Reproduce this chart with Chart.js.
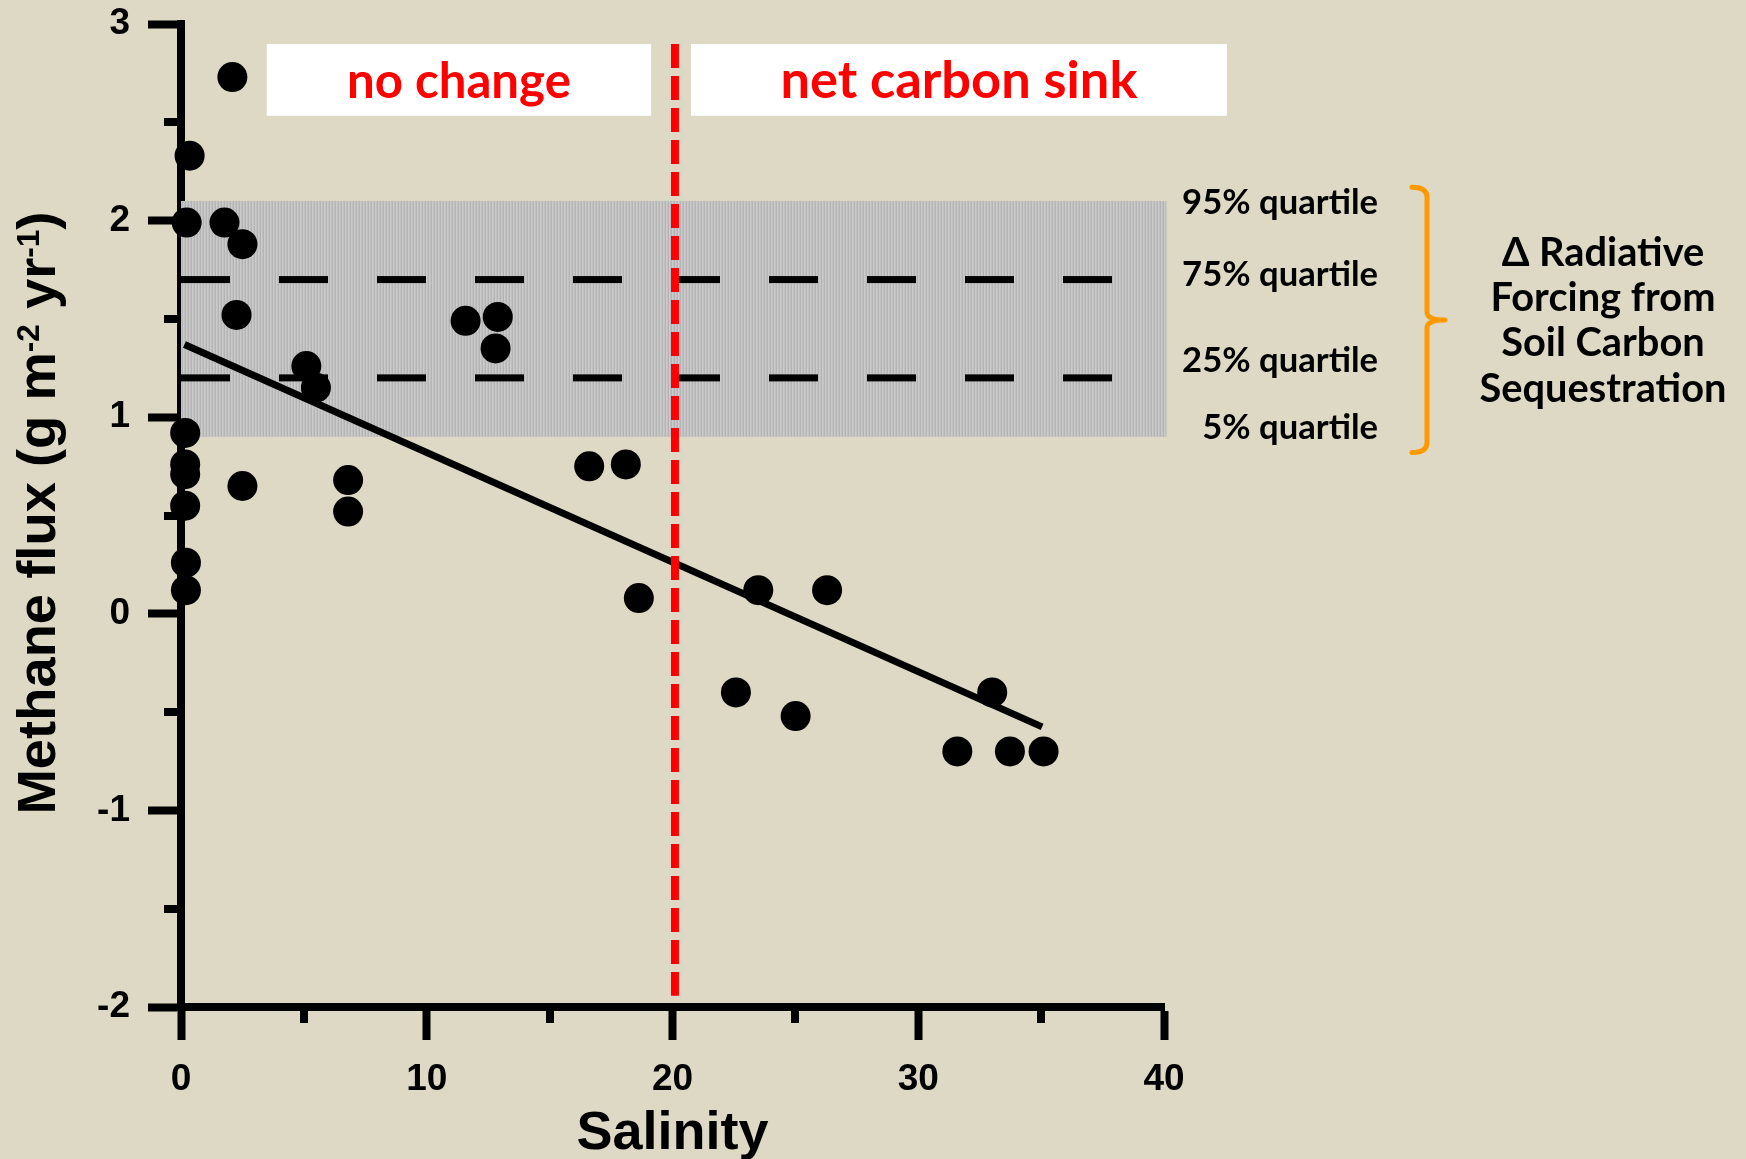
<!DOCTYPE html>
<html>
<head>
<meta charset="utf-8">
<script src="https://cdn.jsdelivr.net/npm/chart.js@4.4.1/dist/chart.umd.min.js"></script>
<style>
  html, body { margin: 0; padding: 0; background: #DDD9C4; }
  canvas { display: block; }
</style>
</head>
<body>
<canvas id="chart" width="1746" height="1159"></canvas>
<script>
// Methane flux measurements versus salinity
const salinity = [2.09, 0.35, 0.23, 1.77, 2.50, 2.26, 5.10, 5.49, 11.58, 12.89, 12.80,
                  0.17, 0.17, 0.17, 0.17, 0.20, 0.20, 2.50, 6.80, 6.80, 16.61, 18.10,
                  18.63, 23.49, 26.29, 22.58, 25.01, 33.01, 31.59, 33.73, 35.10];
const methaneFlux = [2.73, 2.33, 1.99, 1.99, 1.88, 1.52, 1.26, 1.15, 1.49, 1.51, 1.35,
                     0.92, 0.76, 0.71, 0.55, 0.26, 0.12, 0.65, 0.68, 0.52, 0.75, 0.76,
                     0.08, 0.12, 0.12, -0.40, -0.52, -0.40, -0.70, -0.70, -0.70];

// Least-squares fit line end points
const fitSalinity = [0.14, 35.04];
const fitFlux = [1.37, -0.575];

// Soil carbon sequestration forcing distribution
const quartileNames = ['95% quartile', '75% quartile', '25% quartile', '5% quartile'];
const bandRange = [0.9, 2.1];          // 5% .. 95%
const quartileDashed = [1.7, 1.2];      // 75%, 25%
const quartileSpan = [0, 38];
const bandSpan = [0, 40.1];

// Salinity threshold separating the two zones
const thresholdSalinity = 20.1;
const thresholdSpan = [2.898, -1.943];
const zoneNames = ['no change', 'net carbon sink'];
const zoneSpans = [[3.49, 19.13], [20.75, 42.56]];
const zoneHeight = [2.533, 2.898];

const forcingLines = ['\u0394 Radiative', 'Forcing from', 'Soil Carbon', 'Sequestration'];

// Axis tick labels
const xTickLabels = [0, 10, 20, 30, 40];
const yTickLabels = [-2, -1, 0, 1, 2, 3];

const ARIAL = "'Liberation Sans', Arial, Helvetica, sans-serif";
const HAND = "Lato, 'Open Sans', sans-serif";
const BG = '#DDD9C4';

function fitSize(ctx, text, width, weight, family) {
  ctx.font = `${weight} 100px ${family}`;
  return 100 * width / ctx.measureText(text).width;
}
function capHeight(ctx) {
  return ctx.measureText('H').actualBoundingBoxAscent;
}

// Gray stippled band texture
function bandPattern(ctx) {
  const c = document.createElement('canvas');
  c.width = 3; c.height = 1;
  const g = c.getContext('2d');
  ['#cacaca', '#c1c1c1', '#b4b4b4'].forEach((col, i) => { g.fillStyle = col; g.fillRect(i, 0, 1, 1); });
  return ctx.createPattern(c, 'repeat');
}

const decorations = {
  id: 'decorations',
  beforeDraw(chart) {
    const { ctx, width, height } = chart;
    ctx.save();
    ctx.fillStyle = BG;
    ctx.fillRect(0, 0, width, height);
    ctx.restore();
  },
  beforeDatasetsDraw(chart) {
    const { ctx, scales: { x, y } } = chart;
    ctx.save();
    ctx.fillStyle = bandPattern(ctx);
    const x0 = x.getPixelForValue(bandSpan[0]), x1 = x.getPixelForValue(bandSpan[1]);
    const yt = y.getPixelForValue(bandRange[1]), yb = y.getPixelForValue(bandRange[0]);
    ctx.fillRect(x0, yt, x1 - x0, yb - yt);
    ctx.restore();
  },
  afterDraw(chart) {
    const { ctx, chartArea, scales: { x, y } } = chart;
    ctx.save();

    // minor tick marks
    ctx.strokeStyle = '#000';
    ctx.lineWidth = 8;
    ctx.lineCap = 'butt';
    x.ticks.forEach(t => {
      if (t.value % 10 !== 0) {
        const px = Math.round(x.getPixelForValue(t.value));
        ctx.beginPath(); ctx.moveTo(px, chartArea.bottom); ctx.lineTo(px, chartArea.bottom + 16); ctx.stroke();
      }
    });
    y.ticks.forEach(t => {
      if (!Number.isInteger(t.value)) {
        const py = Math.round(y.getPixelForValue(t.value));
        ctx.beginPath(); ctx.moveTo(chartArea.left, py); ctx.lineTo(chartArea.left - 17, py); ctx.stroke();
      }
    });

    // zone boxes with red captions
    zoneNames.forEach((name, i) => {
      const x0 = x.getPixelForValue(zoneSpans[i][0]), x1 = x.getPixelForValue(zoneSpans[i][1]);
      const yt = y.getPixelForValue(zoneHeight[1]), yb = y.getPixelForValue(zoneHeight[0]);
      ctx.fillStyle = '#ffffff';
      ctx.fillRect(x0, yt, x1 - x0, yb - yt);
      const w = i === 0 ? 224 : 357;
      const size = fitSize(ctx, name, w, 'bold', HAND);
      ctx.font = `bold ${size}px ${HAND}`;
      ctx.fillStyle = '#ff0000';
      ctx.textAlign = 'center';
      ctx.textBaseline = 'alphabetic';
      ctx.fillText(name, (x0 + x1) / 2, yb - 17.5);
    });

    // quartile labels
    const qSize = fitSize(ctx, quartileNames[0], 196, 'bold', HAND);
    ctx.font = `bold ${qSize}px ${HAND}`;
    const qCap = capHeight(ctx);
    ctx.fillStyle = '#000';
    ctx.textAlign = 'right';
    ctx.textBaseline = 'alphabetic';
    const qY = [2.097, 1.733, 1.292, 0.955];
    quartileNames.forEach((name, i) => {
      ctx.fillText(name, chartArea.right + 214, y.getPixelForValue(qY[i]) + qCap / 2);
    });

    // curly brace
    const bTop = y.getPixelForValue(2.17), bBot = y.getPixelForValue(0.82);
    const bMid = (bTop + bBot) / 2;
    const hx = chartArea.right + 248, vx = chartArea.right + 263, tx = chartArea.right + 281;
    ctx.strokeStyle = '#FF9900';
    ctx.lineWidth = 5;
    ctx.lineCap = 'round';
    ctx.lineJoin = 'round';
    ctx.beginPath();
    ctx.moveTo(hx, bTop);
    ctx.quadraticCurveTo(vx, bTop, vx, bTop + 10);
    ctx.lineTo(vx, bMid - 8);
    ctx.quadraticCurveTo(vx, bMid, tx, bMid);
    ctx.quadraticCurveTo(vx, bMid, vx, bMid + 8);
    ctx.lineTo(vx, bBot - 10);
    ctx.quadraticCurveTo(vx, bBot, hx, bBot);
    ctx.stroke();

    // forcing caption
    const fSize = fitSize(ctx, forcingLines[3], 247, 'bold', HAND);
    ctx.font = `bold ${fSize}px ${HAND}`;
    const fCap = capHeight(ctx);
    ctx.fillStyle = '#000';
    ctx.textAlign = 'center';
    const fY = [1.842, 1.613, 1.384, 1.152];
    forcingLines.forEach((line, i) => {
      ctx.fillText(line, chartArea.right + 439, y.getPixelForValue(fY[i]) + fCap / 2);
    });

    // y axis title with superscripts
    const parts = [['Methane flux (g m', false], ['-2', true], [' yr', false], ['-1', true], [')', false]];
    const measure = (s) => parts.reduce((acc, [t, sup]) => {
      ctx.font = `bold ${sup ? s * 0.58 : s}px ${ARIAL}`;
      return acc + ctx.measureText(t).width;
    }, 0);
    const tSize = 100 * 603 / measure(100);
    const total = measure(tSize);
    ctx.save();
    ctx.translate(36 + 0.358 * tSize, (y.getPixelForValue(3) + y.getPixelForValue(-2)) / 2 - 2.5);
    ctx.rotate(-Math.PI / 2);
    ctx.textAlign = 'left';
    ctx.textBaseline = 'alphabetic';
    let cx = -total / 2;
    parts.forEach(([t, sup]) => {
      ctx.font = `bold ${sup ? tSize * 0.58 : tSize}px ${ARIAL}`;
      ctx.fillText(t, cx, sup ? -0.30 * tSize : 0);
      cx += ctx.measureText(t).width;
    });
    ctx.restore();

    ctx.restore();
  }
};

const points = salinity.map((s, i) => ({ x: s, y: methaneFlux[i] }));
const fitLine = fitSalinity.map((s, i) => ({ x: s, y: fitFlux[i] }));
const dashedSets = quartileDashed.map((q, i) => ({
  label: quartileNames[i + 1],
  data: quartileSpan.map(s => ({ x: s, y: q })),
  showLine: true, pointRadius: 0, borderColor: '#000', borderWidth: 7,
  borderDash: [49, 49], borderCapStyle: 'butt', order: 3, clip: false
}));

new Chart(document.getElementById('chart'), {
  type: 'scatter',
  data: {
    datasets: [
      {
        label: 'Methane flux',
        data: points,
        pointRadius: 15, pointHoverRadius: 15,
        backgroundColor: '#000', borderWidth: 0, order: 0, clip: false
      },
      {
        label: 'Salinity threshold',
        data: thresholdSpan.map(v => ({ x: thresholdSalinity, y: v })),
        showLine: true, pointRadius: 0, borderColor: '#ff0000', borderWidth: 8,
        borderDash: [24, 8], borderCapStyle: 'butt', order: 1, clip: false
      },
      {
        label: 'Linear fit',
        data: fitLine,
        showLine: true, pointRadius: 0, borderColor: '#000', borderWidth: 7,
        borderCapStyle: 'butt', order: 2, clip: false
      },
      ...dashedSets
    ]
  },
  options: {
    responsive: false,
    animation: false,
    devicePixelRatio: 1,
    layout: { padding: { top: 24, right: 582, left: 0, bottom: 0 } },
    plugins: { legend: { display: false }, tooltip: { enabled: false } },
    scales: {
      x: {
        type: 'linear', min: 0, max: 40,
        afterFit(scale) { scale.height = 152; },
        ticks: {
          stepSize: 5, padding: 18, color: '#000',
          font: { family: ARIAL, size: 37, weight: 'bold' },
          maxRotation: 0, autoSkip: false,
          callback: v => xTickLabels.includes(v) ? String(v) : ''
        },
        grid: {
          drawOnChartArea: false, drawTicks: true, tickLength: 33, tickWidth: 8,
          tickColor: c => (c.tick && xTickLabels.includes(c.tick.value)) ? '#000' : 'rgba(0,0,0,0)'
        },
        border: { display: true, color: '#000', width: 8 },
        title: {
          display: true, text: 'Salinity', color: '#000',
          font: { family: ARIAL, size: 54, weight: 'bold', lineHeight: 1 },
          padding: { top: 0, bottom: -2 }
        }
      },
      y: {
        type: 'linear', min: -2, max: 3,
        afterFit(scale) { scale.width = 181; },
        ticks: {
          stepSize: 0.5, padding: 18, color: '#000',
          font: { family: ARIAL, size: 37, weight: 'bold', lineHeight: 0.1 },
          autoSkip: false,
          callback: v => yTickLabels.includes(v) ? String(v) : ''
        },
        grid: {
          drawOnChartArea: false, drawTicks: true, tickLength: 33, tickWidth: 8,
          tickColor: c => (c.tick && yTickLabels.includes(c.tick.value)) ? '#000' : 'rgba(0,0,0,0)'
        },
        border: { display: true, color: '#000', width: 8 }
      }
    }
  },
  plugins: [decorations]
});
</script>
</body>
</html>
